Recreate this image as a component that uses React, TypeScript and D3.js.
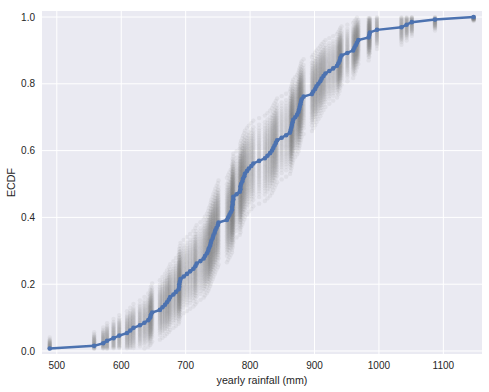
import * as d3 from 'd3';
import React from 'react';

// yearly rainfall (mm)
const rainfall: number[] = [
    489, 558, 572, 578, 588, 597, 609, 614, 619, 629,
    636, 642, 645, 646, 648, 660, 664, 668, 671, 674,
    676, 681, 685, 689, 690, 690, 691, 692, 697, 702,
    707, 712, 715, 717, 723, 728, 730, 733, 735, 736,
    738, 739, 740, 742, 743, 745, 746, 748, 750, 751,
    764, 766, 768, 770, 772, 772, 773, 773, 774, 774,
    779, 784, 785, 785, 786, 788, 789, 791, 792, 795,
    798, 802, 805, 814, 823, 827, 831, 834, 836, 838,
    840, 842, 849, 856, 862, 863, 864, 865, 866, 867,
    870, 873, 875, 876, 877, 878, 879, 880, 883, 896,
    898, 901, 903, 906, 909, 911, 914, 917, 923, 929,
    935, 937, 939, 940, 942, 951, 960, 962, 964, 966,
    968, 984, 985, 986, 997, 1035, 1043, 1051, 1087, 1147,
];

const xTicks = [500, 600, 700, 800, 900, 1000, 1100];
const yTicks = [0, 0.2, 0.4, 0.6, 0.8, 1.0];
const nReps = 50;

const width = 489;
const height = 392;
const margin = { top: 11, right: 7, bottom: 38, left: 42 };

const App = (): React.ReactElement => {
    const chartRef = React.useRef<SVGSVGElement>(null);

    React.useEffect(() => {
        const svg = d3.select(chartRef.current);
        svg.selectAll('*').remove();

        const x = d3.scaleLinear().domain([477, 1160]).range([margin.left, width - margin.right]);
        const y = d3.scaleLinear().domain([-0.009, 1.018]).range([height - margin.bottom, margin.top]);

        const n = rainfall.length;
        const sorted = [...rainfall].sort((a, b) => a - b);
        const ecdf = sorted.map((v, i) => ({ x: v, y: (i + 1) / n }));

        // background and grid
        svg.append('rect')
            .attr('x', margin.left)
            .attr('y', margin.top)
            .attr('width', width - margin.left - margin.right)
            .attr('height', height - margin.top - margin.bottom)
            .attr('fill', '#eaeaf2');

        const grid = svg.append('g').attr('stroke', '#fff').attr('stroke-width', 1);
        grid.selectAll('line.gx')
            .data(xTicks)
            .enter()
            .append('line')
            .attr('x1', (d) => x(d))
            .attr('x2', (d) => x(d))
            .attr('y1', margin.top)
            .attr('y2', height - margin.bottom);
        grid.selectAll('line.gy')
            .data(yTicks)
            .enter()
            .append('line')
            .attr('x1', margin.left)
            .attr('x2', width - margin.right)
            .attr('y1', (d) => y(d))
            .attr('y2', (d) => y(d));

        // bootstrap spread: each replicate ECDF lands on the observed x values,
        // spread around F by its binomial sd
        const offsets = d3.range(nReps).map((k) => {
            const p = (k + 0.5) / nReps;
            return 0.5 * (Math.log(p / (1 - p)) / 1.702) + 0.5 * (2 * p - 1) * 2.2;
        });
        const cloud: { x: number; y: number }[] = [];
        ecdf.forEach((d) => {
            const sd = 1.1 * Math.sqrt((d.y * (1 - d.y)) / n) + 0.005;
            offsets.forEach((z) => {
                const v = d.y + z * sd;
                if (v >= 1 / n - 0.001 && v <= 1.0001) cloud.push({ x: d.x, y: v });
            });
        });
        svg.append('g')
            .selectAll('circle')
            .data(cloud)
            .enter()
            .append('circle')
            .attr('cx', (d) => x(d.x))
            .attr('cy', (d) => y(d.y))
            .attr('r', 2.2)
            .attr('fill', '#808080')
            .attr('fill-opacity', 0.1);

        // observed ECDF
        const line = d3
            .line<{ x: number; y: number }>()
            .x((d) => x(d.x))
            .y((d) => y(d.y));
        svg.append('path')
            .datum(ecdf)
            .attr('d', line)
            .attr('fill', 'none')
            .attr('stroke', '#4c72b0')
            .attr('stroke-width', 2.5);
        svg.append('g')
            .selectAll('circle')
            .data(ecdf)
            .enter()
            .append('circle')
            .attr('cx', (d) => x(d.x))
            .attr('cy', (d) => y(d.y))
            .attr('r', 2.3)
            .attr('fill', '#4c72b0');

        // tick labels
        const font = 'Liberation Sans, Arial, sans-serif';
        svg.append('g')
            .selectAll('text')
            .data(xTicks)
            .enter()
            .append('text')
            .attr('x', (d) => x(d))
            .attr('y', height - margin.bottom + 15)
            .attr('text-anchor', 'middle')
            .attr('font-family', font)
            .attr('font-size', 10)
            .attr('fill', '#262626')
            .text((d) => d);
        svg.append('g')
            .selectAll('text')
            .data(yTicks)
            .enter()
            .append('text')
            .attr('x', margin.left - 7)
            .attr('y', (d) => y(d) + 3.6)
            .attr('text-anchor', 'end')
            .attr('font-family', font)
            .attr('font-size', 10)
            .attr('fill', '#262626')
            .text((d) => d.toFixed(1));

        // axis labels
        svg.append('text')
            .attr('x', (margin.left + width - margin.right) / 2)
            .attr('y', height - 8)
            .attr('text-anchor', 'middle')
            .attr('font-family', font)
            .attr('font-size', 10.7)
            .attr('fill', '#262626')
            .text('yearly rainfall (mm)');
        svg.append('text')
            .attr('transform', `translate(15, ${(margin.top + height - margin.bottom) / 2}) rotate(-90)`)
            .attr('text-anchor', 'middle')
            .attr('font-family', font)
            .attr('font-size', 10.7)
            .attr('fill', '#262626')
            .text('ECDF');
    }, [chartRef]);

    return (
        <div>
            <svg
                ref={chartRef}
                width={width}
                height={height}
                style={{ position: 'absolute', left: 0, top: 0, background: '#fff' }}
            ></svg>
        </div>
    );
};

export default App;
